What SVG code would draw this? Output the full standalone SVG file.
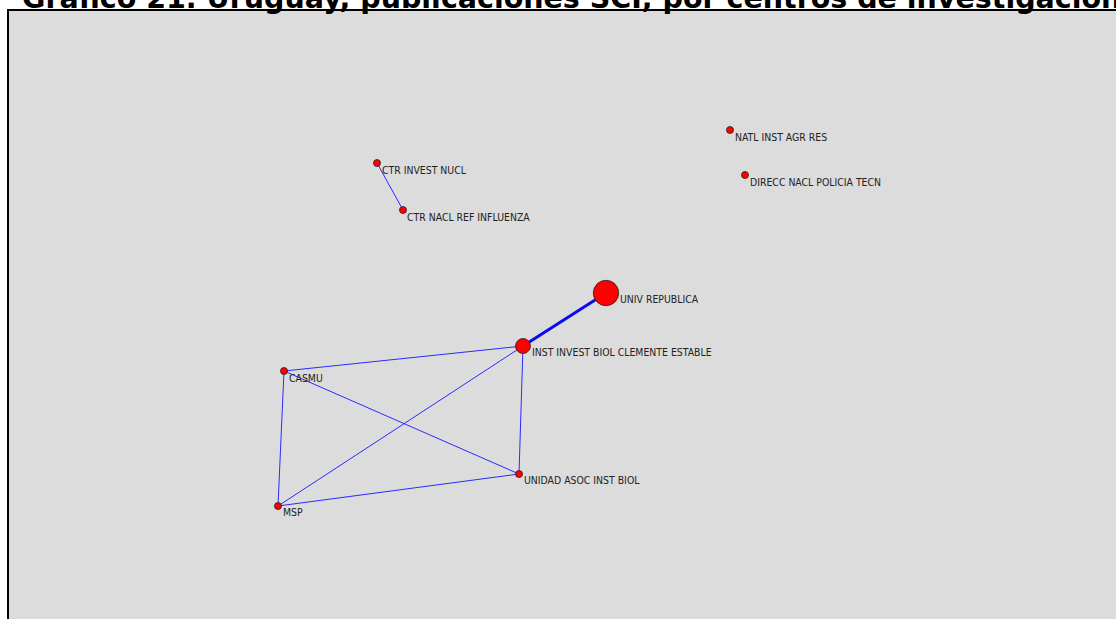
<svg xmlns="http://www.w3.org/2000/svg" width="1116" height="619" viewBox="0 0 1116 619">
<style>
.title{font-family:"DejaVu Sans",sans-serif;font-weight:bold;font-size:28.5px;fill:#000}
.lbl{font-family:"DejaVu Sans Condensed","DejaVu Sans",sans-serif;font-size:10.4px;fill:#222}
.nd{fill:#ff0000;stroke:#222;stroke-width:0.8}
.e{stroke:#2a2aff;stroke-width:1;fill:none}
.ew{stroke:#0a0aee;stroke-width:3;fill:none}
</style>
<rect x="0" y="0" width="1116" height="619" fill="#ffffff"/>
<rect x="8" y="10" width="1120" height="620" fill="#dcdcdc" stroke="#000" stroke-width="2"/>
<text class="title" x="22" y="8">Gráfico 21. Uruguay, publicaciones SCI, por centros de investigación</text>
<g id="edges">
<line class="e" x1="377" y1="163" x2="403" y2="210"/>
<line class="ew" x1="606" y1="293" x2="523" y2="346"/>
<line class="e" x1="523" y1="346" x2="284" y2="371"/>
<line class="e" x1="523" y1="346" x2="278" y2="506"/>
<line class="e" x1="523" y1="346" x2="519" y2="474"/>
<line class="e" x1="284" y1="371" x2="278" y2="506"/>
<line class="e" x1="284" y1="371" x2="519" y2="474"/>
<line class="e" x1="278" y1="506" x2="519" y2="474"/>
</g>
<g id="n-ctr-invest-nucl"><circle class="nd" cx="377" cy="163" r="3.5"/><text class="lbl" x="382" y="174">CTR INVEST NUCL</text></g>
<g id="n-ctr-nacl-ref"><circle class="nd" cx="403" cy="210" r="3.5"/><text class="lbl" x="407" y="221">CTR NACL REF INFLUENZA</text></g>
<g id="n-natl-inst"><circle class="nd" cx="730" cy="130" r="3.5"/><text class="lbl" x="735" y="141">NATL INST AGR RES</text></g>
<g id="n-direcc"><circle class="nd" cx="745" cy="175" r="3.5"/><text class="lbl" x="750" y="186">DIRECC NACL POLICIA TECN</text></g>
<g id="n-univ"><circle class="nd" cx="606" cy="293" r="12.7"/><text class="lbl" x="620" y="303">UNIV REPUBLICA</text></g>
<g id="n-inst-invest"><circle class="nd" cx="523" cy="346" r="7.5"/><text class="lbl" x="532" y="356">INST INVEST BIOL CLEMENTE ESTABLE</text></g>
<g id="n-casmu"><circle class="nd" cx="284" cy="371" r="3.5"/><text class="lbl" x="289" y="382">CASMU</text></g>
<g id="n-msp"><circle class="nd" cx="278" cy="506" r="3.5"/><text class="lbl" x="283" y="516">MSP</text></g>
<g id="n-unidad"><circle class="nd" cx="519" cy="474" r="3.5"/><text class="lbl" x="524" y="484">UNIDAD ASOC INST BIOL</text></g>
</svg>
